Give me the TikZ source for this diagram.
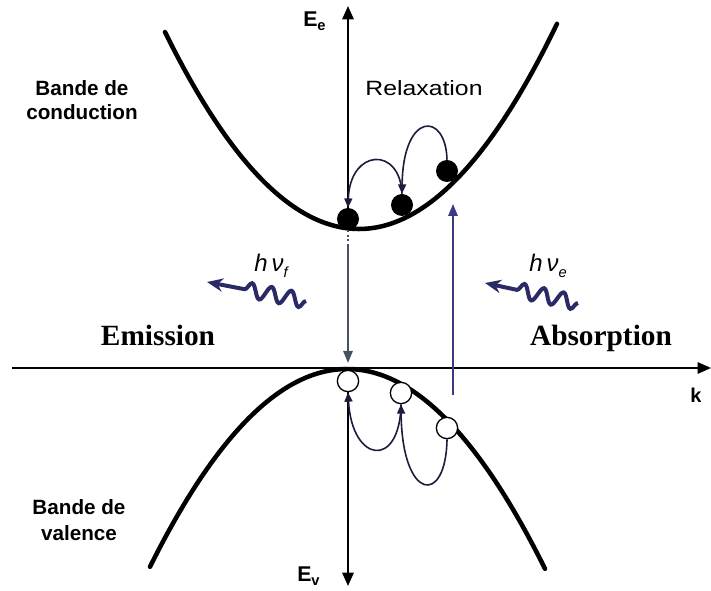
\documentclass[tikz,border=0pt]{standalone}
\usepackage{fontspec}
\setmainfont{Liberation Sans}
\newfontfamily\serifface{Liberation Serif}
\usetikzlibrary{arrows.meta,decorations.pathmorphing}
\definecolor{navyd}{HTML}{1C1C3C}
\definecolor{absc}{HTML}{3A3A85}
\definecolor{emisc}{HTML}{4A5064}
\definecolor{photonc}{HTML}{2A2A66}
\begin{document}
\begin{tikzpicture}[x=0.75pt,y=-0.75pt,
  band/.style={line width=3.4pt, line cap=round},
  axis/.style={line width=1.5pt, -{Triangle[length=10pt,width=8.5pt]}},
  elec/.style={circle, fill=black, minimum size=16.5pt, inner sep=0pt},
  hole/.style={circle, draw=black, line width=1pt, fill=white, minimum size=16pt, inner sep=0pt},
  relax/.style={line width=1.2pt, draw=navyd, -{Triangle[length=7pt,width=6pt]}},
  emis/.style={line width=1.4pt, draw=emisc},
  absorb/.style={line width=1.5pt, draw=absc, -{Triangle[length=9pt,width=7pt]}},
  photon/.style={line width=3pt, draw=photonc, decorate,
     decoration={snake, amplitude=5.5pt, segment length=15pt, post length=24pt},
     -{Stealth[length=12pt,width=10pt]}},
  lbl/.style={inner sep=0pt, font=\fontsize{15.5pt}{18pt}\selectfont\bfseries},
]
\useasboundingbox (0,0) rectangle (711,591);
% coordinates
\coordinate (xl) at (12,368);
\coordinate (xr) at (711,368);
\coordinate (etop) at (348,6);
\coordinate (ebot) at (348,586);
% bands
\draw[band] plot[domain=165:557,samples=90,smooth] (\x,{229-0.005235*(\x-359)*(\x-359)});
\draw[band] plot[domain=150:545,samples=90,smooth] (\x,{369+0.0051*(\x-347)*(\x-347)});
% electrons and holes
\node[elec] (e1) at (348,219) {};
\node[elec] (e2) at (402,205) {};
\node[elec] (e3) at (447,171) {};
\node[hole] (h1) at (348,381) {};
\node[hole] (h2) at (401,393) {};
\node[hole] (h3) at (447,428) {};
% axes
\draw[axis] (e1.north) -- (etop);
\draw[axis] (h1.south) -- (ebot);
\draw[axis] (xl) -- (xr);
% relaxation arcs
\draw[relax] (e3.north) .. controls +(-1,-48) and +(1,-83) .. (e2.north);
\draw[relax] (e2.north) .. controls +(-2,-48) and +(2,-59) .. (e1.north);
\draw[relax] (h3.south) .. controls +(-1,67) and +(1,97) .. (h2.south);
\draw[relax] (h2.south) .. controls +(-1,65) and +(4,71) .. (h1.south);
% emission transition
\coordinate (emd) at (348,246);
\coordinate (emb) at (348,363);
\draw[emis, dotted] (e1.south) -- (emd);
\draw[emis, -{Triangle[length=9pt,width=7pt]}] (emd) -- (emb);
% absorption transition
\coordinate (abb) at (453,395);
\coordinate (abt) at (453,204);
\draw[absorb] (abb) -- (abt);
% photons
\coordinate (pf1) at (306,301);
\coordinate (pf2) at (207,282);
\draw[photon] (pf1) -- (pf2);
\coordinate (pe1) at (578,303);
\coordinate (pe2) at (485,283);
\draw[photon] (pe1) -- (pe2);
% labels
\node[inner sep=0pt, anchor=base, font=\fontsize{15.5pt}{18pt}\selectfont] (relaxl) at (424,96) {\scalebox{1.2}[1]{Relaxation}};
\node[lbl, anchor=base] (bc1) at (82,96) {Bande de};
\node[lbl, anchor=base] (bc2) at (82,120) {conduction};
\node[lbl, anchor=base] (bv1) at (79,515) {Bande de};
\node[lbl, anchor=base] (bv2) at (79,541) {valence};
\node[inner sep=0pt, anchor=base, font=\serifface\fontsize{22pt}{26pt}\selectfont\bfseries] (emi) at (158,346) {Emission};
\node[inner sep=0pt, anchor=base, font=\serifface\fontsize{22pt}{26pt}\selectfont\bfseries] (abso) at (601,346) {Absorption};
\node[inner sep=0pt, anchor=base west, font=\fontsize{16pt}{18pt}\selectfont\bfseries] (ee) at (303,27) {E\raisebox{-0.35ex}{\fontsize{11pt}{12pt}\selectfont e}};
\node[inner sep=0pt, anchor=base west, font=\fontsize{16pt}{18pt}\selectfont\bfseries] (ev) at (297,581) {E\raisebox{-0.4ex}{\fontsize{11pt}{12pt}\selectfont v}};
\node[inner sep=0pt, anchor=base, font=\fontsize{15pt}{17pt}\selectfont\bfseries] (kl) at (696,403) {k};
\node[inner sep=0pt, anchor=base west, font=\fontsize{18pt}{20pt}\selectfont\itshape] (hnf) at (254,272) {h\,ν\raisebox{-0.45ex}{\fontsize{11pt}{12pt}\selectfont f}};
\node[inner sep=0pt, anchor=base west, font=\fontsize{18pt}{20pt}\selectfont\itshape] (hne) at (529,272) {h\,ν\raisebox{-0.45ex}{\fontsize{11pt}{12pt}\selectfont e}};
\end{tikzpicture}
\end{document}
